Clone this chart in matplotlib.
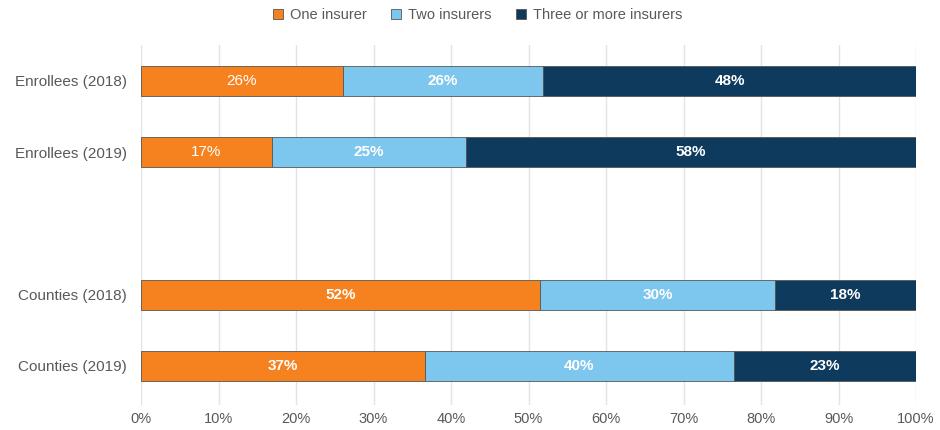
import matplotlib.pyplot as plt
import numpy as np

plt.rcParams['font.family'] = ['Liberation Sans', 'DejaVu Sans']

categories = ['Enrollees (2018)', 'Enrollees (2019)', '', 'Counties (2018)', 'Counties (2019)']
series_names = ['One insurer', 'Two insurers', 'Three or more insurers']
one_insurer = [26.0, 16.9, np.nan, 51.5, 36.6]
two_insurers = [25.9, 25.0, np.nan, 30.3, 39.9]
three_plus = [48.1, 58.1, np.nan, 18.2, 23.5]
labels = [['26%', '17%', '', '52%', '37%'],
          ['26%', '25%', '', '30%', '40%'],
          ['48%', '58%', '', '18%', '23%']]
colors = ['#F5821F', '#7DC6EE', '#0E3A5E']
xticks = [0, 10, 20, 30, 40, 50, 60, 70, 80, 90, 100]

fig = plt.figure(figsize=(9.4, 4.3), dpi=100)
ax = fig.add_axes([0.15, 0.058, 0.8245, 0.837])

y = np.arange(len(categories))
left = np.zeros(len(categories))
for i, vals in enumerate([one_insurer, two_insurers, three_plus]):
    vals = np.array(vals)
    bars = ax.barh(y, vals, left=left, height=0.42, color=colors[i],
                   edgecolor='#555555', linewidth=0.6, label=series_names[i], zorder=3)
    for j, b in enumerate(bars):
        if np.isnan(vals[j]):
            continue
        weight = 'normal' if (i == 0 and j < 2) else 'bold'
        ax.text(left[j] + vals[j] / 2, y[j], labels[i][j], ha='center', va='center',
                color='white', fontsize=11, fontweight=weight, zorder=4)
    left = left + np.nan_to_num(vals)

ax.set_xlim(0, 100)
ax.set_ylim(4.55, -0.5)
ax.set_xticks(xticks)
ax.set_xticklabels([f'{t}%' for t in xticks])
ax.set_yticks(y)
ax.set_yticklabels(categories)
ax.tick_params(axis='both', length=0, colors='#595959')
ax.tick_params(axis='x', pad=5, labelsize=10.5)
ax.tick_params(axis='y', pad=10, labelsize=11)
ax.grid(axis='x', color='#E3E3E3', linewidth=1, zorder=0)
for s in ax.spines.values():
    s.set_visible(False)

leg = fig.legend(loc='upper center', bbox_to_anchor=(0.508, 1.012), ncol=3, frameon=False,
                 handlelength=0.7, handleheight=0.7, handletextpad=0.45, columnspacing=1.7,
                 fontsize=10.5, labelcolor='#595959')

fig.savefig('out.png', dpi=100)
